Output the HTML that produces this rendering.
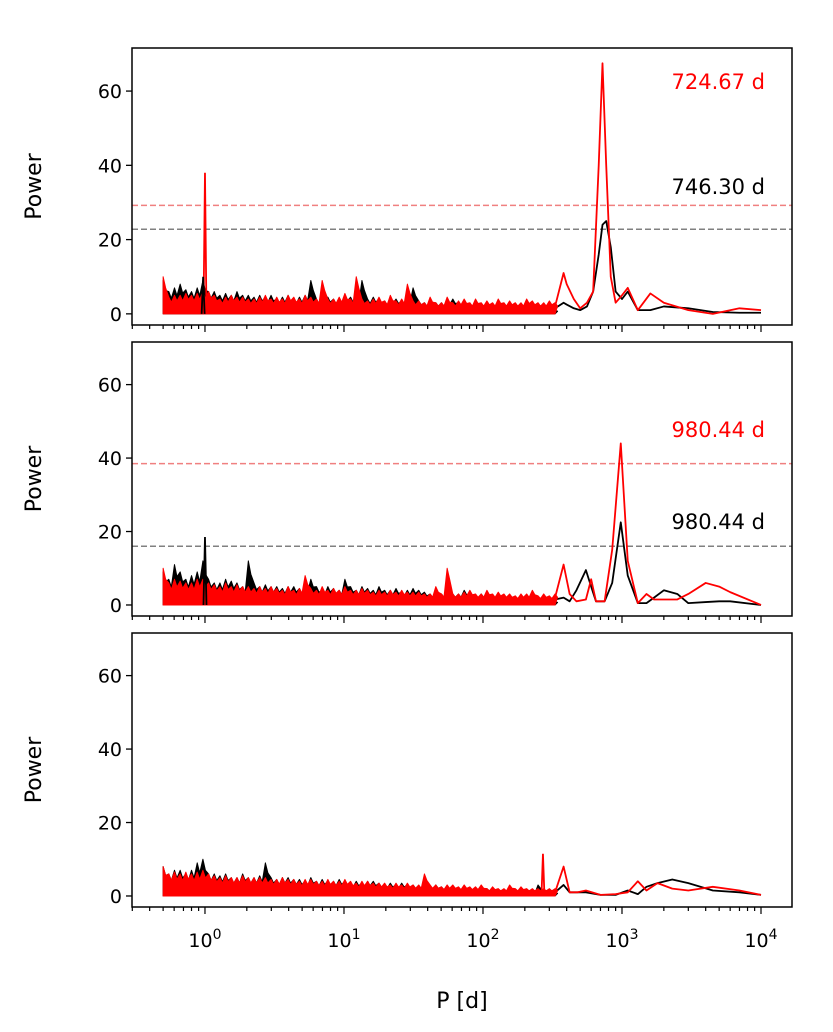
<!DOCTYPE html>
<html><head><meta charset="utf-8"><style>
body{margin:0;background:#fff;}
svg{display:block;font-family:"DejaVu Sans","Liberation Sans",sans-serif;}
</style></head><body>
<svg id="chart" width="833" height="1032" viewBox="0 0 833 1032" xmlns="http://www.w3.org/2000/svg"></svg>
<script>
// ---- data ----
const gridStart = 0.5, gridEnd = 330;
const noiseBlack1 = [9,6,7,8,6.5,6,7,9,6,6,5,5.5,5,6,5,5,4.5,5,4.5,5,4,4.5,5,4,4.5,5,9,4,4,4.5,4,4,5,4.5,4,9,4,4.5,4,3.5,4,4,3.5,4,7,3.5,3,3.5,3,3,3.5,4,3,3,2.5,3,2.5,3,2,2.5,2,2,1.5,2,1.5,1,1.5,1,1,1];
const noiseRed1 = [10,4.5,5,5,5.5,5,5.5,6,6,5,4,4.5,5,4.5,4.5,4,4,4.5,5,4,4.5,4,5,4.5,4,5,4.5,4,9,4,4,4.5,5.5,4,10,4,3.5,4,4.5,3.5,5,3.5,4,8,3.5,3.5,3,4.5,3,3,4.5,3,3.5,4,3,4,3,3.5,3,4,3,3.5,3,3,4,3.5,3,3,3.5,3];
const lineP1 = [330,380,400,450,500,560,620,680,724,770,830,900,1000,1100,1300,1600,2000,3000,4500,7000,10000];
const lineBlack1 = [1.5,3,2.5,1.5,1,2,6,16,24,25,18,6,4,6,1,1,2,1.5,0.5,0.3,0.3];
const lineRed1 = [2,11,8,4,1.5,3,6,40,67.5,40,10,3,5,7,1,5.5,3,1,0,1.5,1];
const spikeP1 = [[1.0,38,'red'],[0.97,10,'black']];
const thr1 = {red:29.2, black:22.8};

const noiseBlack2 = [9,7,11,9,7,8,9,12,7,6,6,7,6.5,6,5,12,6,5,5.5,5,5,4.5,5,5,4.5,5,7,5,4,5,4.5,4,7,5,4,5,4.5,4,5,4,4,4.5,3.5,4,4.5,4,3.5,3,3,3,3.5,3,3,4,3,2.5,3,2.5,2,2.5,2,2,1.5,2,1.5,1.5,1,1.5,1,1];
const noiseRed2 = [10,6,7,6.5,6,6,7,7,6,5.5,5,6,5,5.5,5,5,4.5,5,4.5,5,4.5,4,5,4,4.5,8,4.5,4,5,4,4.5,4,5,4,4,4.5,4,3.5,4,3.5,4,3.5,4,3.5,3.5,3.5,3,3,5,3,10,3,3,3.5,4,3,3,4,3,3.5,3,3,2.5,3,3,4,2.5,3,2.5,3];
const lineP2 = [330,380,420,470,550,600,650,750,850,980,1100,1300,1500,1700,2000,2500,3000,4000,5000,6000,10000];
const lineBlack2 = [1.5,2,1,4,9.5,5,1,1,6,22.5,8,0.5,0.5,2,4,3,0.5,0.8,1,1,0];
const lineRed2 = [2,11,3,1,1.5,7,1,1,15,44,12,0.5,3,1.5,1.5,1.5,3,6,5,3.5,0];
const spikeP2 = [[1.0,18.5,'black']];
const thr2 = {red:38.5, black:16};

const noiseBlack3 = [8,6,7,7,6,7,9,10,6,6,5.5,6,5,5,6,5,5,5.5,9,5,4.5,5,5,4.5,4.5,4,5,4,4.5,4,4,4.5,4,3.5,4,3.5,4,4,3.5,3,3.5,3,3.5,3,3,2.5,3,2.5,3,2.5,2.5,2,2,2.5,2,2,1.5,2,1.5,1.5,1,1.5,1,1.5,1,1,3,1,1.5,1];
const noiseRed3 = [8,6,6.5,6,6.5,6,6.5,7,6,5.5,5,5.5,5,5,5.5,5,5,5,5,4.5,4.5,5,4.5,4.5,4,4.5,4.5,4,4,4.5,4,4,4.5,4,3.5,4,4,3.5,3.5,3.5,3,3.5,3,3.5,3,3,6,3,3,2.5,3,3,2.5,3,2.5,2.5,3,2,2.5,2,2,3,2,2.5,2,2,2,2,2,2];
const lineP3 = [330,380,420,480,550,700,900,1100,1300,1500,1800,2300,3000,4500,7000,10000];
const lineBlack3 = [1,3,1,1,1,0.3,0.3,1.5,0.5,2.5,3.5,4.5,3.5,1.5,1,0.3];
const lineRed3 = [1,8,1,1,1.5,0.3,0.5,1,4,1.5,3.5,2,1.5,2.5,1.5,0.3];
const spikeP3 = [[270,11.5,'red']];
const thr3 = null;

const xTickExps = [0,1,2,3,4];
const yTicks = [0,20,40,60];
const labels1 = [['724.67 d','red',82],['746.30 d','black',187]];
const labels2 = [['980.44 d','red',430],['980.44 d','black',522]];

// ---- layout ----
const svg = document.getElementById('chart');
const NS = 'http://www.w3.org/2000/svg';
const L = 132, R = 792;
const xMinLog = -0.525, xMaxLog = 4.223;
function xs(p){ return L + (Math.log10(p) - xMinLog) / (xMaxLog - xMinLog) * (R - L); }
const panels = [
 {top:48,bottom:325,nb:noiseBlack1,nr:noiseRed1,lp:lineP1,lb:lineBlack1,lr:lineRed1,sp:spikeP1,thr:thr1,labels:labels1},
 {top:342,bottom:616,nb:noiseBlack2,nr:noiseRed2,lp:lineP2,lb:lineBlack2,lr:lineRed2,sp:spikeP2,thr:thr2,labels:labels2},
 {top:633,bottom:907,nb:noiseBlack3,nr:noiseRed3,lp:lineP3,lb:lineBlack3,lr:lineRed3,sp:spikeP3,thr:thr3,labels:[]}
];
const yMin = -3, yMax = 71.6;
function mk(tag, attrs, parent){ const e = document.createElementNS(NS, tag); for (const k in attrs) e.setAttribute(k, attrs[k]); (parent||svg).appendChild(e); return e; }

panels.forEach((pn, pi) => {
  const g = mk('g', {});
  
  
  const ys = v => pn.bottom - (v - yMin) / (yMax - yMin) * (pn.bottom - pn.top);
  const gridX = i => gridStart * Math.pow(gridEnd / gridStart, i / (pn.nb.length - 1));
  function area(vals, color, name){
    let d = 'M' + xs(gridX(0)) + ',' + ys(0);
    vals.forEach((v,i) => { const x = xs(gridX(i)); d += 'L' + x + ',' + ys(v) + 'L' + (x+2.5) + ',' + ys(v*0.7); });
    d += 'L' + xs(gridX(vals.length-1)) + ',' + ys(0) + 'Z';
    const p = mk('path', {d:d, fill:color, stroke:color, 'stroke-width':1.0, 'stroke-linejoin':'round'}, g);
    
    
  }
  function line(vals, color, name){
    const d = vals.map((v,i) => (i?'L':'M') + xs(pn.lp[i]) + ',' + ys(v)).join('');
    const p = mk('path', {d:d, fill:'none', stroke:color, 'stroke-width':1.8, 'stroke-linejoin':'round'}, g);
    
    
  }
  if (pn.thr) {
    [['red','#f08080'],['black','#808080']].forEach(([k,c]) => {
      const t = mk('line', {x1:L, x2:R, y1:ys(pn.thr[k]), y2:ys(pn.thr[k]), stroke:c, 'stroke-width':1.5, 'stroke-dasharray':'6,3'}, g);
      
      
    });
  }
  area(pn.nb, '#000', 'black-noise');
  line(pn.lb, '#000', 'black-series');
  area(pn.nr, '#ff0000', 'red-noise');
  line(pn.lr, '#ff0000', 'red-series');
  pn.sp.forEach(s => {
    const c = s[2]==='red' ? '#ff0000' : '#000';
    const p = mk('path', {d:'M'+(xs(s[0])-1.5)+','+ys(0)+'L'+xs(s[0])+','+ys(s[1])+'L'+(xs(s[0])+1.5)+','+ys(0), fill:'none', stroke:c, 'stroke-width':1.8}, g);
    
    
  });
  const fr = mk('rect', {x:L, y:pn.top, width:R-L, height:pn.bottom-pn.top, fill:'none', stroke:'#000', 'stroke-width':1.5}, g);
  
  
  yTicks.forEach(v => {
    mk('line', {x1:L-6, x2:L, y1:ys(v), y2:ys(v), stroke:'#000', 'stroke-width':1.3}, g);
    const t = mk('text', {x:L-10, y:ys(v)+7, 'text-anchor':'end', 'font-size':19}, g);
    t.textContent = v;
    
    
  });
  for (let e = -1; e <= 4; e++) for (let m = 1; m <= 9; m++) {
    const p = m * Math.pow(10, e), x = xs(p);
    if (x < L || x > R) continue;
    mk('line', {x1:x, x2:x, y1:pn.bottom, y2:pn.bottom + (m===1?7:4), stroke:'#000', 'stroke-width':1.2}, g);
  }
  const yl = mk('text', {x:0, y:0, transform:'translate(41,'+((pn.top+pn.bottom)/2)+') rotate(-90)', 'text-anchor':'middle', 'font-size':22}, g);
  yl.textContent = 'Power';
  
  
  pn.labels.forEach(lb => {
    const t = mk('text', {x:765, y:lb[2]+7, 'text-anchor':'end', 'font-size':21, fill:lb[1]==='red'?'#ff0000':'#000'}, g);
    t.textContent = lb[0];
    
    
  });
});
xTickExps.forEach(e => {
  const t = mk('text', {x:xs(Math.pow(10,e)), y:947, 'text-anchor':'middle', 'font-size':19});
  
  
  t.innerHTML = '10<tspan dy="-8" font-size="14">' + e + '</tspan>';
});
const xl = mk('text', {x:462, y:1008, 'text-anchor':'middle', 'font-size':22});
xl.textContent = 'P [d]';


</script>
</body></html>
